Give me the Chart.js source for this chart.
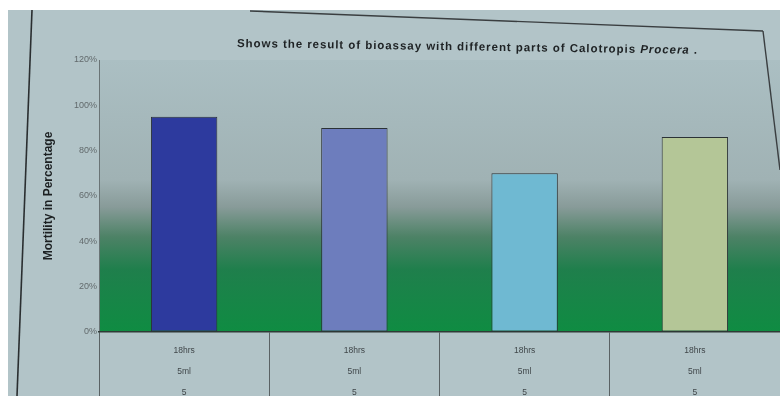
<!DOCTYPE html>
<html>
<head>
<meta charset="utf-8">
<script src="https://cdn.jsdelivr.net/npm/chart.js@4"></script>
<style>
  html, body { margin: 0; padding: 0; background: #ffffff; }
  #wrap { position: absolute; left: 8px; top: 10px; width: 772px; height: 386px; background: #b2c4c8; overflow: hidden; }
  #c { position: absolute; left: 0; top: 0; }
  #title { position: absolute; left: 229px; top: 27px; font: bold 11.5px "Liberation Sans", Arial, sans-serif; letter-spacing: 0.95px; color: #1e2224; white-space: nowrap; transform: rotate(0.85deg); transform-origin: left center; }
  #frame { position: absolute; left: 0; top: 0; }
</style>
</head>
<body>
<div id="wrap">
  <canvas id="c" width="772" height="386"></canvas>
  <svg id="frame" width="772" height="386">
    <line x1="24" y1="0" x2="9" y2="386" stroke="#2a2e30" stroke-width="1.6"/>
    <line x1="242" y1="1" x2="755" y2="21" stroke="#3a3e40" stroke-width="1.4"/>
    <line x1="755" y1="21" x2="772" y2="160" stroke="#3a3e40" stroke-width="1.4"/>
  </svg>
  <div id="title">Shows the result of bioassay with different parts of Calotropis <i>Procera</i> .</div>
</div>
<script>
const categories = [['18hrs', '5ml', '5'], ['18hrs', '5ml', '5'], ['18hrs', '5ml', '5'], ['18hrs', '5ml', '5']];
const mortality = [95, 90, 70, 86];
const barColors = ['#2d3a9e', '#6d7dbd', '#6fb9d2', '#b4c697'];
const yTickMax = 120;
const yTickStep = 20;

const plotBg = {
  id: 'plotBg',
  beforeDraw(chart) {
    const { ctx, chartArea: a } = chart;
    const g = ctx.createLinearGradient(0, a.top, 0, a.bottom);
    g.addColorStop(0, '#abbfc3');
    g.addColorStop(0.44, '#a0b2b4');
    g.addColorStop(0.54, '#889b99');
    g.addColorStop(0.65, '#4d8266');
    g.addColorStop(0.77, '#1f7f4c');
    g.addColorStop(1, '#0f8c42');
    ctx.save();
    ctx.fillStyle = g;
    ctx.fillRect(a.left, a.top, a.right - a.left, a.bottom - a.top);
    ctx.restore();
  }
};

new Chart(document.getElementById('c'), {
  type: 'bar',
  data: {
    labels: categories,
    datasets: [{
      data: mortality,
      backgroundColor: barColors,
      borderColor: '#2b3236',
      borderWidth: 1,
      borderSkipped: false,
      barPercentage: 0.39,
      categoryPercentage: 1
    }]
  },
  options: {
    responsive: false,
    animation: false,
    layout: { padding: { top: 50, right: 0, left: 0, bottom: 0 } },
    plugins: { legend: { display: false }, title: { display: false }, tooltip: { enabled: false } },
    scales: {
      y: {
        min: 0,
        max: yTickMax,
        afterFit(s) { s.width = 91; },
        ticks: {
          stepSize: yTickStep,
          callback: v => v + '%',
          color: '#626a6c',
          font: { family: 'Liberation Sans, Arial, sans-serif', size: 9 },
          padding: 2
        },
        grid: { drawOnChartArea: false, drawTicks: false, color: '#6a7476' },
        border: { color: '#6a7476', width: 1 },
        title: {
          display: true,
          text: 'Mortility in Percentage',
          color: '#1c2022',
          font: { family: 'Liberation Sans, Arial, sans-serif', size: 12, weight: 'bold' },
          padding: { top: 33, bottom: 0 }
        }
      },
      x: {
        afterFit(s) { s.height = 64; },
        ticks: {
          color: '#40474a',
          font: { family: 'Liberation Sans, Arial, sans-serif', size: 8.5, lineHeight: '21px' },
          padding: -56,
          maxRotation: 0
        },
        grid: { offset: true, drawOnChartArea: false, drawTicks: true, tickLength: 64, color: '#5a6264', lineWidth: 1 },
        border: { color: '#2f3a36', width: 1.5 }
      }
    }
  },
  plugins: [plotBg]
});
</script>
</body>
</html>
